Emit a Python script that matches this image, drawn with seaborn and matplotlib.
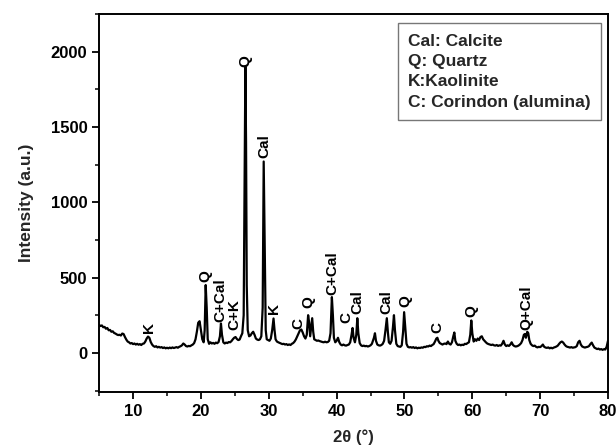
import matplotlib
matplotlib.use("Agg")
import matplotlib.pyplot as plt
from matplotlib.ticker import MultipleLocator
import seaborn as sns
import pandas as pd

# ---- data ----
two_theta = [
    5.0, 5.2, 5.4, 5.6, 5.8, 6.0, 6.2, 6.4, 6.6, 6.8, 7.0, 7.2, 7.4, 7.6, 7.8, 8.0, 8.2, 8.4, 8.6, 8.8,
    9.0, 9.2, 9.4, 9.6, 9.8, 10.0, 10.2, 10.4, 10.6, 10.8, 11.0, 11.2, 11.4, 11.6, 11.8, 12.0, 12.2, 12.4,
    12.6, 12.8, 13.0, 13.2, 13.4, 13.6, 13.8, 14.0, 14.2, 14.4, 14.6, 14.8, 15.0, 15.2, 15.4, 15.6, 15.8,
    16.0, 16.2, 16.4, 16.6, 16.8, 17.0, 17.2, 17.4, 17.6, 17.8, 18.0, 18.2, 18.4, 18.6, 18.8, 19.0, 19.2,
    19.4, 19.6, 19.8, 20.0, 20.2, 20.4, 20.55, 20.7, 20.85, 21.0, 21.2, 21.4, 21.6, 21.8, 22.0, 22.2, 22.4,
    22.6, 22.8, 22.95, 23.1, 23.3, 23.5, 23.7, 23.9, 24.1, 24.3, 24.5, 24.7, 24.9, 25.1, 25.3, 25.5, 25.7,
    25.9, 26.1, 26.3, 26.45, 26.55, 26.65, 26.75, 26.9, 27.1, 27.3, 27.5, 27.7, 27.9, 28.1, 28.3, 28.5,
    28.7, 28.9, 29.1, 29.25, 29.4, 29.55, 29.7, 29.9, 30.1, 30.3, 30.5, 30.7, 30.85, 31.0, 31.2, 31.4,
    31.6, 31.8, 32.0, 32.2, 32.4, 32.6, 32.8, 33.0, 33.2, 33.4, 33.6, 33.8, 34.0, 34.2, 34.4, 34.6, 34.8,
    35.0, 35.2, 35.4, 35.6, 35.8, 35.95, 36.1, 36.25, 36.4, 36.55, 36.7, 36.9, 37.1, 37.3, 37.5, 37.7,
    37.9, 38.1, 38.3, 38.5, 38.7, 38.9, 39.1, 39.3, 39.45, 39.6, 39.8, 40.0, 40.2, 40.4, 40.6, 40.8, 41.0,
    41.2, 41.4, 41.6, 41.8, 42.0, 42.2, 42.35, 42.5, 42.7, 42.9, 43.05, 43.2, 43.4, 43.6, 43.8, 44.0, 44.2,
    44.4, 44.6, 44.8, 45.0, 45.2, 45.5, 45.65, 45.8, 46.0, 46.2, 46.4, 46.6, 46.8, 47.0, 47.2, 47.4, 47.55,
    47.7, 47.9, 48.1, 48.3, 48.45, 48.6, 48.8, 49.0, 49.2, 49.4, 49.6, 49.8, 49.95, 50.1, 50.3, 50.5, 50.7,
    50.9, 51.1, 51.3, 51.5, 51.7, 51.9, 52.1, 52.3, 52.5, 52.7, 52.9, 53.1, 53.3, 53.5, 53.7, 53.9, 54.1,
    54.3, 54.5, 54.7, 54.85, 55.0, 55.2, 55.4, 55.6, 55.8, 56.0, 56.2, 56.4, 56.6, 56.8, 57.0, 57.2, 57.35,
    57.5, 57.7, 57.9, 58.1, 58.3, 58.5, 58.7, 58.9, 59.1, 59.3, 59.5, 59.7, 59.85, 60.0, 60.2, 60.4, 60.6,
    60.8, 61.0, 61.2, 61.4, 61.6, 61.8, 62.0, 62.2, 62.4, 62.6, 62.8, 63.0, 63.2, 63.4, 63.6, 63.8, 64.0,
    64.2, 64.4, 64.6, 64.8, 65.0, 65.2, 65.4, 65.6, 65.8, 66.0, 66.2, 66.4, 66.6, 66.8, 67.0, 67.2, 67.4,
    67.6, 67.75, 67.9, 68.1, 68.25, 68.4, 68.6, 68.8, 69.0, 69.2, 69.4, 69.6, 69.8, 70.0, 70.2, 70.4, 70.6,
    70.8, 71.0, 71.2, 71.4, 71.6, 71.8, 72.0, 72.2, 72.4, 72.6, 72.8, 73.0, 73.2, 73.4, 73.6, 73.8, 74.0,
    74.2, 74.4, 74.6, 74.8, 75.0, 75.2, 75.4, 75.6, 75.8, 76.0, 76.2, 76.4, 76.6, 76.8, 77.0, 77.2, 77.4,
    77.6, 77.8, 78.0, 78.2, 78.4, 78.6, 78.8, 79.0, 79.2, 79.4, 79.6, 79.8, 80.0,
]
intensity = [
    185, 178, 182, 170, 172, 160, 165, 150, 152, 140, 143, 132, 128, 122, 118, 120, 115, 128, 125, 105,
    88, 75, 70, 62, 65, 58, 62, 55, 60, 54, 58, 52, 60, 62, 75, 95, 108, 100,
    72, 55, 45, 40, 44, 36, 40, 35, 38, 32, 36, 30, 34, 30, 35, 31, 36,
    32, 35, 38, 34, 40, 44, 50, 62, 55, 45, 42, 46, 44, 50, 55, 65, 90,
    140, 200, 210, 150, 90, 70, 150, 450, 300, 90, 60, 70, 62, 66, 60, 68, 64,
    72, 110, 195, 120, 70, 62, 68, 65, 72, 70, 78, 90, 100, 105, 92, 85, 88,
    110, 130, 250, 1200, 1900, 1400, 450, 150, 110, 115, 130, 140, 120, 95, 88, 85,
    90, 110, 300, 1270, 700, 150, 90, 85, 80, 95, 150, 228, 150, 90, 75, 70,
    66, 62, 58, 60, 55, 58, 52, 56, 52, 60, 65, 75, 90, 110, 130, 150, 155,
    135, 110, 95, 120, 250, 200, 110, 170, 230, 140, 90, 85, 80, 82, 78, 75,
    72, 70, 74, 70, 72, 80, 130, 370, 250, 100, 70, 80, 100, 70, 55, 50, 55,
    50, 48, 52, 55, 70, 120, 165, 100, 70, 120, 230, 130, 65, 50, 45, 48, 44,
    46, 42, 45, 50, 60, 100, 130, 80, 55, 50, 48, 52, 60, 80, 150, 230, 140,
    70, 60, 80, 170, 250, 150, 60, 45, 42, 40, 50, 140, 270, 180, 60, 40, 36,
    38, 34, 38, 32, 36, 30, 34, 32, 36, 34, 40, 38, 44, 42, 48, 45, 52,
    58, 75, 95, 100, 80, 65, 60, 55, 60, 62, 58, 75, 60, 55, 70, 110, 135,
    80, 60, 52, 55, 50, 54, 52, 60, 58, 65, 70, 120, 215, 130, 75, 90, 80,
    95, 85, 105, 110, 90, 80, 70, 62, 58, 55, 52, 55, 50, 48, 52, 46, 50,
    48, 60, 80, 55, 45, 50, 46, 55, 70, 52, 45, 42, 44, 48, 55, 65, 85,
    120, 125, 100, 140, 130, 85, 60, 50, 45, 48, 40, 36, 40, 38, 45, 55, 40,
    35, 33, 36, 30, 34, 30, 35, 38, 42, 48, 60, 70, 75, 68, 55, 45, 40,
    38, 35, 38, 34, 36, 38, 45, 70, 80, 55, 42, 38, 35, 38, 40, 45, 58,
    68, 50, 35, 30, 25, 28, 22, 25, 20, 24, 22, 40, 80,
]
peak_labels = ["K", "Q", "C+Cal", "C+K", "Q", "Cal", "K", "C", "Q", "C+Cal",
               "C", "Cal", "Cal", "Q", "C", "Q", "Q+Cal"]
label_x = [12.3, 20.6, 22.9, 25.0, 26.5, 29.3, 30.8, 34.4, 35.9, 39.4,
           41.5, 43.1, 47.3, 50.1, 54.9, 59.9, 67.9]
label_y = [130, 470, 205, 150, 1895, 1295, 260, 160, 295, 385,
           195, 260, 260, 305, 130, 240, 150]
legend_lines = ["Cal: Calcite", "Q: Quartz", "K:Kaolinite", "C: Corindon (alumina)"]

df = pd.DataFrame({"two_theta": two_theta, "intensity": intensity})

sns.set_theme(style="ticks")
plt.rcParams["font.family"] = ["Liberation Sans", "DejaVu Sans"]
plt.rcParams["font.weight"] = "bold"

fig = plt.figure(figsize=(6.16, 4.47), dpi=100)
ax = fig.add_axes([0.161, 0.123, 0.826, 0.846])

sns.lineplot(data=df, x="two_theta", y="intensity", ax=ax, color="black",
             linewidth=1.6, sort=False, estimator=None)

for lab, lx, ly in zip(peak_labels, label_x, label_y):
    ax.text(lx, ly, lab, rotation=90, ha="center", va="bottom",
            fontsize=11, fontweight="bold", color="black")

ax.set_xlim(5, 80)
ax.set_ylim(-260, 2250)
ax.xaxis.set_minor_locator(MultipleLocator(5))
ax.yaxis.set_minor_locator(MultipleLocator(250))
ax.set_xticks([10, 20, 30, 40, 50, 60, 70, 80])
ax.set_yticks([0, 500, 1000, 1500, 2000])
ax.tick_params(axis="both", which="major", length=5, width=1.3, labelsize=12,
               direction="out", color="black", labelcolor="black")
ax.tick_params(axis="both", which="minor", length=3, width=1.3, direction="out")
for t in ax.get_xticklabels() + ax.get_yticklabels():
    t.set_fontweight("bold")
for sp in ax.spines.values():
    sp.set_visible(True)
    sp.set_linewidth(1.4)
    sp.set_color("black")

ax.set_xlabel("2θ (°)", fontsize=12, fontweight="bold", labelpad=8)
ax.set_ylabel("Intensity (a.u.)", fontsize=12.5, fontweight="bold", labelpad=12)

# legend-style text box
box_text = "\n".join(legend_lines)
ax.text(0.607, 0.948, box_text, transform=ax.transAxes, ha="left", va="top",
        fontsize=12.5, fontweight="bold", linespacing=1.45,
        bbox=dict(boxstyle="square,pad=0.6", facecolor="white", edgecolor="#777777", linewidth=1.0))

fig.savefig("out.png", dpi=100, facecolor="white")
